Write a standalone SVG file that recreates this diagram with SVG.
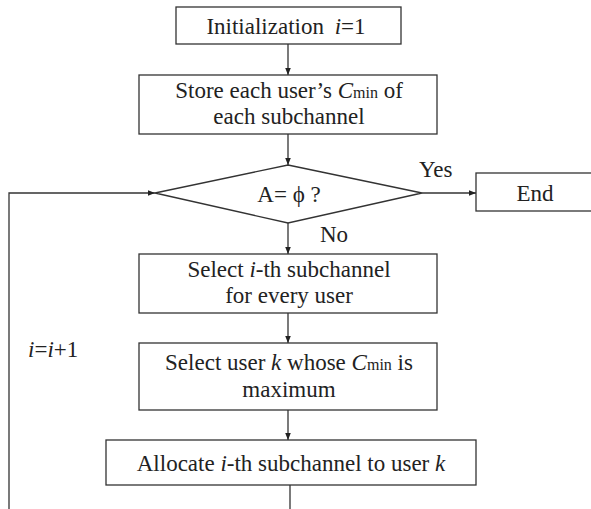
<svg xmlns="http://www.w3.org/2000/svg" width="591" height="509" viewBox="0 0 591 509">
<style>
.box{fill:#fff;stroke:#333;stroke-width:1.3}
text{font-family:'Liberation Serif','Times New Roman','DejaVu Serif',serif;font-size:23px;fill:#222}
.t{text-anchor:middle}
.i{font-style:italic}
.s{font-size:16px;font-style:normal}
.c{stroke:#333;stroke-width:1.3;fill:none}
</style>
<defs>
<marker id="ah" viewBox="0 0 10 10" refX="10" refY="5" markerWidth="7" markerHeight="7" markerUnits="userSpaceOnUse" orient="auto"><path d="M0,1 L10,5 L0,9 z" fill="#222"/></marker>
</defs>
<g id="connectors">
<path class="c" d="M288,44 V75" marker-end="url(#ah)"/>
<path class="c" d="M288,134 V165" marker-end="url(#ah)"/>
<path class="c" d="M422,193 H476" marker-end="url(#ah)"/>
<path class="c" d="M288,223 V254" marker-end="url(#ah)"/>
<path class="c" d="M288,313 V343" marker-end="url(#ah)"/>
<path class="c" d="M288,410 V440" marker-end="url(#ah)"/>
<path class="c" d="M290,485 V509"/>
<path class="c" d="M9,509 V193 H155" marker-end="url(#ah)"/>
<text font-family="Liberation Serif, serif" x="419" y="177">Yes</text>
<text font-family="Liberation Serif, serif" x="320" y="242">No</text>
<text font-family="Liberation Serif, serif" x="28" y="357"><tspan class="i">i</tspan>=<tspan class="i">i</tspan>+1</text>
</g>
<g id="init">
<rect class="box" x="176" y="7" width="225" height="37"/>
<text class="t" font-family="Liberation Serif, serif" x="286" y="34">Initialization <tspan class="i" dx="5">i</tspan>=1</text>
</g>
<g id="store">
<rect class="box" x="139" y="75" width="298" height="59"/>
<text class="t" font-family="Liberation Serif, serif" x="289" y="98">Store each user’s <tspan class="i">C</tspan><tspan class="s">min</tspan> of</text>
<text class="t" font-family="Liberation Serif, serif" x="289" y="124">each subchannel</text>
</g>
<g id="decision">
<polygon class="box" points="288,165 422,193 288,223 155,193"/>
<text class="t" font-family="Liberation Serif, serif" x="289" y="202">A= ϕ ?</text>
</g>
<g id="end">
<rect class="box" x="476" y="173" width="120" height="38"/>
<text class="t" font-family="Liberation Serif, serif" x="535" y="201">End</text>
</g>
<g id="select-sub">
<rect class="box" x="139" y="254" width="298" height="59"/>
<text class="t" font-family="Liberation Serif, serif" x="289" y="277">Select <tspan class="i">i</tspan>-th subchannel</text>
<text class="t" font-family="Liberation Serif, serif" x="289" y="303">for every user</text>
</g>
<g id="select-user">
<rect class="box" x="139" y="343" width="298" height="67"/>
<text class="t" font-family="Liberation Serif, serif" x="289" y="370">Select user <tspan class="i">k</tspan> whose <tspan class="i">C</tspan><tspan class="s">min</tspan> is</text>
<text class="t" font-family="Liberation Serif, serif" x="289" y="397">maximum</text>
</g>
<g id="allocate">
<rect class="box" x="106" y="440" width="370" height="45"/>
<text class="t" font-family="Liberation Serif, serif" x="291" y="471">Allocate <tspan class="i">i</tspan>-th subchannel to user <tspan class="i">k</tspan></text>
</g>
</svg>
